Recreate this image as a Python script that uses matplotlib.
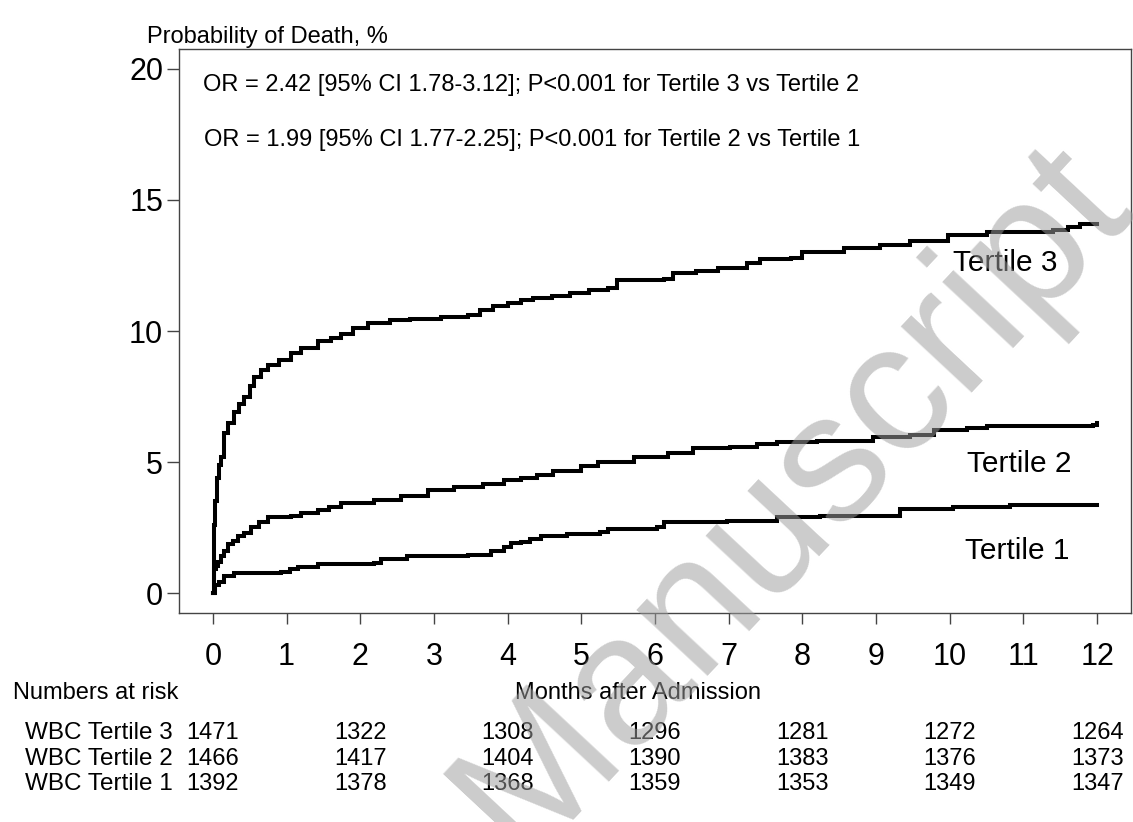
import matplotlib
matplotlib.use("Agg")
import matplotlib.pyplot as plt

plt.rcParams['font.family'] = ['Liberation Sans', 'DejaVu Sans']

# cumulative probability of death (%)
t3_months = [0, 0.01, 0.02, 0.03, 0.05, 0.08, 0.11, 0.15, 0.20, 0.28, 0.35, 0.42, 0.50, 0.56,
             0.65, 0.75, 0.90, 1.06, 1.20, 1.42, 1.60, 1.74, 1.90, 2.10, 2.41, 2.68, 3.09, 3.46,
             3.63, 3.80, 4.00, 4.18, 4.35, 4.60, 4.85, 5.10, 5.36, 5.49, 6.12, 6.25, 6.55, 6.85,
             7.25, 7.43, 7.84, 8.00, 8.24, 8.56, 9.06, 9.46, 9.97, 10.51, 11.40, 11.60, 11.77, 12.0]
t3_values = [0, 1.5, 2.6, 3.5, 4.4, 4.9, 5.2, 6.1, 6.5, 6.9, 7.2, 7.5, 7.9, 8.25,
             8.5, 8.7, 8.9, 9.15, 9.35, 9.6, 9.75, 9.9, 10.1, 10.3, 10.42, 10.46, 10.53, 10.6,
             10.8, 10.95, 11.06, 11.2, 11.25, 11.35, 11.45, 11.55, 11.65, 11.95, 11.98, 12.2, 12.3, 12.4,
             12.6, 12.75, 12.8, 13.0, 13.0, 13.15, 13.27, 13.45, 13.65, 13.76, 13.84, 13.95, 14.1, 14.1]

t2_months = [0, 0.01, 0.02, 0.04, 0.07, 0.11, 0.15, 0.20, 0.27, 0.34, 0.42, 0.52, 0.62, 0.75,
             1.06, 1.20, 1.42, 1.58, 1.74, 2.18, 2.55, 2.92, 3.27, 3.67, 3.95, 4.18, 4.40, 4.62,
             4.99, 5.22, 5.71, 6.17, 6.52, 7.02, 7.39, 7.66, 8.2, 8.96, 9.46, 9.78, 10.24, 10.51,
             11.95, 12.0]
t2_values = [0, 0.6, 0.9, 1.03, 1.2, 1.41, 1.6, 1.86, 2.0, 2.17, 2.3, 2.51, 2.7, 2.89,
             2.93, 3.05, 3.16, 3.3, 3.42, 3.57, 3.69, 3.95, 4.03, 4.18, 4.3, 4.41, 4.52, 4.64,
             4.83, 5.02, 5.21, 5.36, 5.55, 5.59, 5.70, 5.78, 5.82, 5.97, 6.05, 6.24, 6.31, 6.39,
             6.43, 6.5]

t1_months = [0, 0.03, 0.08, 0.15, 0.28, 0.92, 1.05, 1.15, 1.42, 2.18, 2.28, 2.64, 3.46, 3.77,
             3.95, 4.04, 4.18, 4.30, 4.45, 4.81, 5.26, 5.36, 6.03, 6.12, 6.98, 7.66, 8.24, 9.1,
             9.33, 10.05, 10.82, 12.0]
t1_values = [0, 0.3, 0.42, 0.65, 0.76, 0.80, 0.90, 0.99, 1.10, 1.14, 1.29, 1.41, 1.44, 1.60,
             1.75, 1.90, 1.94, 2.05, 2.17, 2.24, 2.32, 2.43, 2.51, 2.70, 2.74, 2.89, 2.93, 2.93,
             3.19, 3.27, 3.35, 3.35]

# numbers at risk
risk_months = [0, 2, 4, 6, 8, 10, 12]
risk_labels = ['WBC Tertile 3', 'WBC Tertile 2', 'WBC Tertile 1']
risk_t3 = [1471, 1322, 1308, 1296, 1281, 1272, 1264]
risk_t2 = [1466, 1417, 1404, 1390, 1383, 1376, 1373]
risk_t1 = [1392, 1378, 1368, 1359, 1353, 1349, 1347]

W, H = 1133, 822
fig = plt.figure(figsize=(W / 100, H / 100), dpi=100)
ax = fig.add_axes([179 / W, 1 - 613 / H, (1131 - 179) / W, (613 - 49) / H])

for m, v in [(t3_months, t3_values), (t2_months, t2_values), (t1_months, t1_values)]:
    ax.plot(m, v, drawstyle='steps-post', color='black', lw=2.9, solid_joinstyle='miter')

ax.set_xlim(-0.46, 12.46)
ax.set_ylim(-0.76, 20.76)
ax.set_xticks(range(0, 13))
ax.set_yticks([0, 5, 10, 15, 20])
for s in ax.spines.values():
    s.set_color('#444444')
    s.set_linewidth(1.0)
ax.tick_params(axis='x', direction='out', length=8, width=1, color='#444444', labelsize=22, pad=13)
ax.tick_params(axis='y', direction='out', length=8.5, width=1, color='#444444', labelsize=22, pad=3)

ax.text(10.04, 12.6, 'Tertile 3', fontsize=21.5, va='center', ha='left')
ax.text(10.23, 4.92, 'Tertile 2', fontsize=21.5, va='center', ha='left')
ax.text(10.21, 1.6, 'Tertile 1', fontsize=21.5, va='center', ha='left')

fig.text(147 / W, 1 - 43 / H, 'Probability of Death, %', fontsize=17, ha='left', va='baseline')
fig.text(203 / W, 1 - 85 / H, 'OR = 2.42 [95% CI 1.78-3.12]; P<0.001 for Tertile 3 vs Tertile 2',
         fontsize=17, ha='left', va='center')
fig.text(204 / W, 1 - 140 / H, 'OR = 1.99 [95% CI 1.77-2.25]; P<0.001 for Tertile 2 vs Tertile 1',
         fontsize=17, ha='left', va='center')

fig.text(638 / W, 1 - 693 / H, 'Months after Admission', fontsize=17, ha='center', va='center')
fig.text(13 / W, 1 - 693 / H, 'Numbers at risk', fontsize=17, ha='left', va='center')

row_y = [733, 759, 784]
for lab, counts, yy in zip(risk_labels, [risk_t3, risk_t2, risk_t1], row_y):
    fig.text(173 / W, 1 - yy / H, lab, fontsize=17.5, ha='right', va='center')
    for mo, c in zip(risk_months, counts):
        xp = ax.transData.transform((mo, 0))[0]
        fig.text(xp / W, 1 - yy / H, str(c), fontsize=17, ha='center', va='center')

# watermark
fig.text(792 / W, 1 - 500 / H, 'Manuscript', rotation=47, fontsize=132, color=(0.62, 0.62, 0.62),
         alpha=0.53, ha='center', va='center', zorder=10, rotation_mode='anchor')

fig.savefig('out.png', dpi=100)
